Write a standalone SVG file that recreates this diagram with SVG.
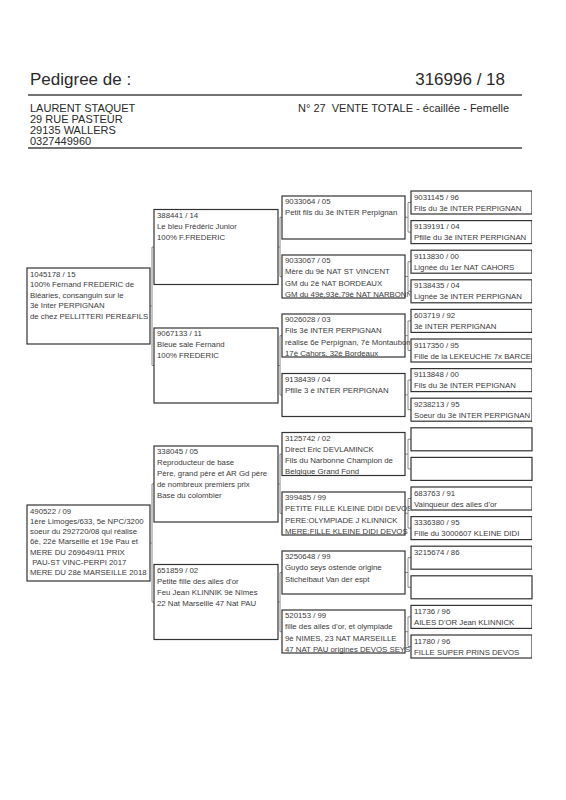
<svg xmlns="http://www.w3.org/2000/svg" width="566" height="800" viewBox="0 0 566 800">
<style>
.bg{fill:#ffffff}
.box{fill:#ffffff;stroke:#333333;stroke-width:1.2}
.t{font-family:"Liberation Sans",Arial,sans-serif;font-size:7.8px;fill:#3a3a3a}
.hd{font-family:"Liberation Sans",Arial,sans-serif;fill:#2a2a2a}
.rule{stroke:#444444;stroke-width:1.4}
.con{fill:none;stroke:#8a8a8a;stroke-width:1}
</style>
<defs>
<clipPath id="c1"><rect x="0" y="0" width="152" height="800"/></clipPath>
<clipPath id="c3"><rect x="0" y="0" width="410" height="800"/></clipPath>
<clipPath id="c4"><rect x="0" y="0" width="532" height="800"/></clipPath>
</defs>
<rect class="bg" x="0" y="0" width="566" height="800"/>

<g id="header">
<text class="hd" x="30" y="85" font-size="17">Pedigree de :</text>
<text class="hd" x="505" y="85" font-size="17" text-anchor="end">316996 / 18</text>
<line class="rule" x1="28" y1="95" x2="522" y2="95"/>
<text class="hd" x="30" y="112" font-size="11">LAURENT STAQUET</text>
<text class="hd" x="30" y="123" font-size="11">29 RUE PASTEUR</text>
<text class="hd" x="30" y="134" font-size="11">29135 WALLERS</text>
<text class="hd" x="30" y="144.5" font-size="11">0327449960</text>
<text class="hd" x="298" y="112" font-size="11">N° 27&#160; VENTE TOTALE - écaillée - Femelle</text>
<line class="rule" x1="28" y1="148" x2="522" y2="148"/>
</g>

<g id="connectors">
<path class="con" d="M150,306 H152 M154,247 H152 V365.5 H154"/>
<path class="con" d="M150,543 H152 M154,484 H152 V602 H154"/>
<path class="con" d="M278,247 H280 M282,217.3 H280 V276.5 H282"/>
<path class="con" d="M278,365.5 H280 M282,335.7 H280 V394.9 H282"/>
<path class="con" d="M278,484 H280 M282,454.1 H280 V513.3 H282"/>
<path class="con" d="M278,602 H280 M282,572.5 H280 V631.7 H282"/>
<path class="con" d="M405,217.3 H408 M411,202.5 H408 V232.1 H411"/>
<path class="con" d="M405,276.5 H408 M411,261.7 H408 V291.3 H411"/>
<path class="con" d="M405,335.7 H408 M411,320.9 H408 V350.5 H411"/>
<path class="con" d="M405,394.9 H408 M411,380.1 H408 V409.7 H411"/>
<path class="con" d="M405,454.1 H408 M411,439.3 H408 V468.9 H411"/>
<path class="con" d="M405,513.3 H408 M411,498.5 H408 V528.1 H411"/>
<path class="con" d="M405,572.5 H408 M411,557.7 H408 V587.3 H411"/>
<path class="con" d="M405,631.7 H408 M411,616.9 H408 V646.5 H411"/>
</g>

<!-- Column 1 -->
<g id="n1045178" clip-path="url(#c1)">
<rect class="box" x="27" y="268" width="123" height="76"/>
<text class="t" x="30" y="276.5">1045178 / 15</text>
<text class="t" x="30" y="287">100% Fernand FREDERIC de</text>
<text class="t" x="30" y="297.5">Bléaries, consanguin sur le</text>
<text class="t" x="30" y="308">3è Inter PERPIGNAN</text>
<text class="t" x="30" y="318.5">de chez PELLITTERI PERE&amp;FILS</text>
</g>
<g id="n490522" clip-path="url(#c1)">
<rect class="box" x="27" y="505" width="123" height="76"/>
<text class="t" x="30" y="513.5">490522 / 09</text>
<text class="t" x="30" y="523.8">1ère Limoges/633, 5e NPC/3200</text>
<text class="t" x="30" y="534.1">soeur du 292720/08 qui réalise</text>
<text class="t" x="30" y="544.4">6è, 22è Marseille et 19è Pau et</text>
<text class="t" x="30" y="554.7">MERE DU 269649/11 PRIX</text>
<text class="t" x="30" y="565">&#160;PAU-ST VINC-PERPI 2017</text>
<text class="t" x="30" y="575.3">MERE DU 28è MARSEILLE 2018</text>
</g>

<!-- Column 2 -->
<g id="n388441">
<rect class="box" x="154" y="209.5" width="124" height="75"/>
<text class="t" x="157" y="217.5">388441 / 14</text>
<text class="t" x="157" y="228.5">Le bleu Frédéric Junior</text>
<text class="t" x="157" y="239.5">100% F.FREDERIC</text>
</g>
<g id="n9067133">
<rect class="box" x="154" y="328" width="124" height="75"/>
<text class="t" x="157" y="336">9067133 / 11</text>
<text class="t" x="157" y="347">Bleue sale Fernand</text>
<text class="t" x="157" y="358">100% FREDERIC</text>
</g>
<g id="n338045">
<rect class="box" x="154" y="446" width="124" height="76"/>
<text class="t" x="157" y="454">338045 / 05</text>
<text class="t" x="157" y="465">Reproducteur de base</text>
<text class="t" x="157" y="476">Père, grand père et AR Gd père</text>
<text class="t" x="157" y="487">de nombreux premiers prix</text>
<text class="t" x="157" y="498">Base du colombier</text>
</g>
<g id="n651859">
<rect class="box" x="154" y="564.5" width="124" height="75"/>
<text class="t" x="157" y="572.5">651859 / 02</text>
<text class="t" x="157" y="583.5">Petite fille des ailes d'or</text>
<text class="t" x="157" y="594.5">Feu Jean KLINNIK 9è Nîmes</text>
<text class="t" x="157" y="605.5">22 Nat Marseille 47 Nat PAU</text>
</g>

<!-- Column 3 -->
<g id="n9033064" clip-path="url(#c3)">
<rect class="box" x="282" y="196" width="123" height="43"/>
<text class="t" x="285" y="204">9033064 / 05</text>
<text class="t" x="285" y="215.3">Petit fils du 3è INTER Perpignan</text>
</g>
<g id="n9033067" clip-path="url(#c3)">
<rect class="box" x="282" y="255" width="123" height="43"/>
<text class="t" x="285" y="263">9033067 / 05</text>
<text class="t" x="285" y="274.3">Mère du 9è NAT ST VINCENT</text>
<text class="t" x="285" y="285.6">GM du 2è NAT BORDEAUX</text>
<text class="t" x="285" y="296.9">GM du 49è,93è,79è NAT NARBONNE</text>
</g>
<g id="n9026028" clip-path="url(#c3)">
<rect class="box" x="282" y="314" width="123" height="43"/>
<text class="t" x="285" y="322">9026028 / 03</text>
<text class="t" x="285" y="333.3">Fils 3è INTER PERPIGNAN</text>
<text class="t" x="285" y="344.6">réalise 6e Perpignan, 7è Montaubon</text>
<text class="t" x="285" y="355.9">17è Cahors, 32è Bordeaux</text>
</g>
<g id="n9138439" clip-path="url(#c3)">
<rect class="box" x="282" y="373.5" width="123" height="43"/>
<text class="t" x="285" y="381.5">9138439 / 04</text>
<text class="t" x="285" y="392.8">Pfille 3 è INTER PERPIGNAN</text>
</g>
<g id="n3125742" clip-path="url(#c3)">
<rect class="box" x="282" y="432.5" width="123" height="43"/>
<text class="t" x="285" y="440.5">3125742 / 02</text>
<text class="t" x="285" y="451.8">Direct Eric DEVLAMINCK</text>
<text class="t" x="285" y="463.1">Fils du Narbonne Champion de</text>
<text class="t" x="285" y="474.4">Belgique Grand Fond</text>
</g>
<g id="n399485" clip-path="url(#c3)">
<rect class="box" x="282" y="492" width="123" height="43"/>
<text class="t" x="285" y="500">399485 / 99</text>
<text class="t" x="285" y="511.3">PETITE FILLE KLEINE DIDI DEVOS</text>
<text class="t" x="285" y="522.6">PERE:OLYMPIADE J KLINNICK</text>
<text class="t" x="285" y="533.9">MERE:FILLE KLEINE DIDI DEVOS</text>
</g>
<g id="n3250648" clip-path="url(#c3)">
<rect class="box" x="282" y="551" width="123" height="43"/>
<text class="t" x="285" y="559">3250648 / 99</text>
<text class="t" x="285" y="570.3">Guydo seys ostende origine</text>
<text class="t" x="285" y="581.6">Stichelbaut Van der espt</text>
</g>
<g id="n520153" clip-path="url(#c3)">
<rect class="box" x="282" y="610" width="123" height="43"/>
<text class="t" x="285" y="618">520153 / 99</text>
<text class="t" x="285" y="629.3">fille des ailes d'or, et olympiade</text>
<text class="t" x="285" y="640.6">9è NIMES, 23 NAT MARSEILLE</text>
<text class="t" x="285" y="651.9">47 NAT PAU origines DEVOS SEYS</text>
</g>

<!-- Column 4 -->
<g id="n9031145" clip-path="url(#c4)">
<rect class="box" x="411" y="191" width="121" height="23"/>
<text class="t" x="414" y="199.5">9031145 / 96</text>
<text class="t" x="414" y="210.5">Fils du 3è INTER PERPIGNAN</text>
</g>
<g id="n9139191" clip-path="url(#c4)">
<rect class="box" x="411" y="220.6" width="121" height="23"/>
<text class="t" x="414" y="229.1">9139191 / 04</text>
<text class="t" x="414" y="240.1">Pfille du 3è INTER PERPIGNAN</text>
</g>
<g id="n9113830" clip-path="url(#c4)">
<rect class="box" x="411" y="250.2" width="121" height="23"/>
<text class="t" x="414" y="258.7">9113830 / 00</text>
<text class="t" x="414" y="269.7">Lignée du 1er NAT CAHORS</text>
</g>
<g id="n9138435" clip-path="url(#c4)">
<rect class="box" x="411" y="279.8" width="121" height="23"/>
<text class="t" x="414" y="288.3">9138435 / 04</text>
<text class="t" x="414" y="299.3">Lignée 3è INTER PERPIGNAN</text>
</g>
<g id="n603719" clip-path="url(#c4)">
<rect class="box" x="411" y="309.4" width="121" height="23"/>
<text class="t" x="414" y="317.9">603719 / 92</text>
<text class="t" x="414" y="328.9">3è INTER PERPIGNAN</text>
</g>
<g id="n9117350" clip-path="url(#c4)">
<rect class="box" x="411" y="339" width="121" height="23"/>
<text class="t" x="414" y="347.5">9117350 / 95</text>
<text class="t" x="414" y="358.5">Fille de la LEKEUCHE 7x BARCELONE</text>
</g>
<g id="n9113848" clip-path="url(#c4)">
<rect class="box" x="411" y="368.6" width="121" height="23"/>
<text class="t" x="414" y="377.1">9113848 / 00</text>
<text class="t" x="414" y="388.1">Fils du 3è INTER PEPIGNAN</text>
</g>
<g id="n9238213" clip-path="url(#c4)">
<rect class="box" x="411" y="398.2" width="121" height="23"/>
<text class="t" x="414" y="406.7">9238213 / 95</text>
<text class="t" x="414" y="417.7">Soeur du 3è INTER PERPIGNAN</text>
</g>
<g id="n_empty1">
<rect class="box" x="411" y="427.8" width="121" height="23"/>
</g>
<g id="n_empty2">
<rect class="box" x="411" y="457.4" width="121" height="23"/>
</g>
<g id="n683763" clip-path="url(#c4)">
<rect class="box" x="411" y="487" width="121" height="23"/>
<text class="t" x="414" y="495.5">683763 / 91</text>
<text class="t" x="414" y="506.5">Vainqueur des ailes d'or</text>
</g>
<g id="n3336380" clip-path="url(#c4)">
<rect class="box" x="411" y="516.6" width="121" height="23"/>
<text class="t" x="414" y="525.1">3336380 / 95</text>
<text class="t" x="414" y="536.1">Fille du 3000607 KLEINE DIDI</text>
</g>
<g id="n3215674" clip-path="url(#c4)">
<rect class="box" x="411" y="546.2" width="121" height="23"/>
<text class="t" x="414" y="554.7">3215674 / 86</text>
</g>
<g id="n_empty3">
<rect class="box" x="411" y="575.8" width="121" height="23"/>
</g>
<g id="n11736" clip-path="url(#c4)">
<rect class="box" x="411" y="605.4" width="121" height="23"/>
<text class="t" x="414" y="613.9">11736 / 96</text>
<text class="t" x="414" y="624.9">AILES D'OR Jean KLINNICK</text>
</g>
<g id="n11780" clip-path="url(#c4)">
<rect class="box" x="411" y="635" width="121" height="23"/>
<text class="t" x="414" y="643.5">11780 / 96</text>
<text class="t" x="414" y="654.5">FILLE SUPER PRINS DEVOS</text>
</g>
</svg>
